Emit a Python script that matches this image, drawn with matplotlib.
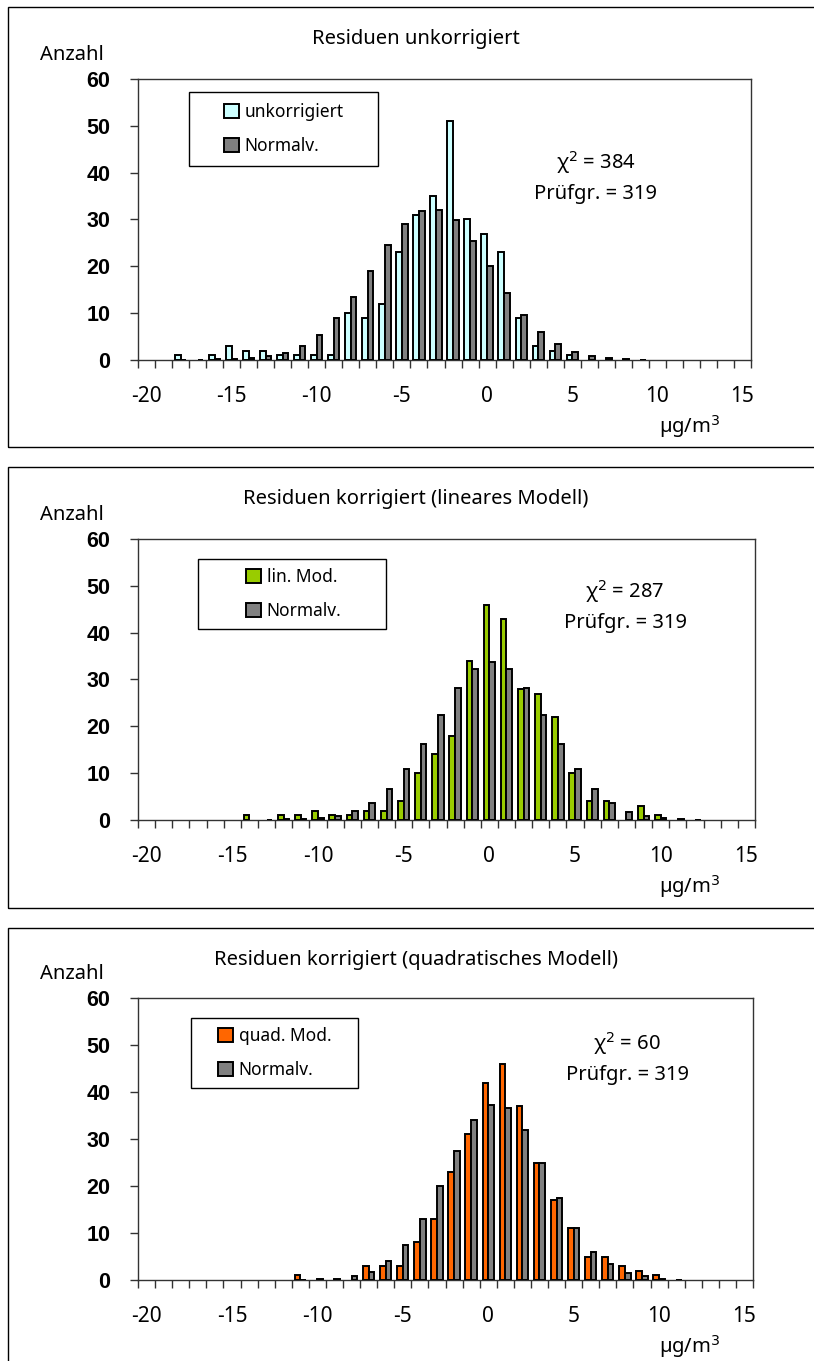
import numpy as np
import matplotlib.pyplot as plt
from matplotlib.patches import Rectangle

# categories: residual classes in ug/m3
categories = list(range(-20, 16))

# observed counts per class (index 0 -> -20, index 35 -> 15)
unkorrigiert = [0, 0, 1, 0, 1, 3, 2, 2, 1, 1, 1, 1, 10, 9, 12, 23, 31, 35, 51, 30,
                27, 23, 9, 3, 2, 1, 0, 0, 0, 0, 0, 0, 0, 0, 0, 0]
normal_unk = [0, 0, 0.05, 0.1, 0.2, 0.3, 0.5, 0.8, 1.5, 3, 5.3, 8.9, 13.5, 18.9, 24.5, 29.1,
              31.9, 32.1, 29.8, 25.4, 20, 14.4, 9.6, 5.9, 3.4, 1.8, 0.9, 0.5, 0.25, 0.1,
              0, 0, 0, 0, 0, 0]

lin_mod = [0, 0, 0, 0, 0, 0, 1, 0, 1, 1, 2, 1, 1, 2, 2, 4, 10, 14, 18, 34,
           46, 43, 28, 27, 22, 10, 4, 4, 0, 3, 1, 0, 0, 0, 0, 0]
normal_lin = [0, 0, 0, 0, 0, 0, 0, 0.05, 0.2, 0.3, 0.5, 0.8, 1.9, 3.6, 6.6, 10.9,
              16.2, 22.4, 28.1, 32.2, 33.7, 32.2, 28.1, 22.4, 16.2, 10.8, 6.6, 3.6, 1.8,
              0.9, 0.4, 0.2, 0.1, 0, 0, 0]

quad_mod = [0, 0, 0, 0, 0, 0, 0, 0, 0, 1, 0, 0, 0, 3, 3, 3, 8, 13, 23, 31,
            42, 46, 37, 25, 17, 11, 5, 5, 3, 2, 1, 0, 0, 0, 0, 0]
normal_quad = [0, 0, 0, 0, 0, 0, 0, 0, 0, 0.05, 0.15, 0.3, 0.8, 1.8, 4, 7.5,
               13, 20, 27.5, 34, 37.3, 36.5, 32, 25, 17.5, 11, 6, 3.5, 1.5, 0.8, 0.3,
               0.1, 0, 0, 0, 0]

titles = ["Residuen unkorrigiert",
          "Residuen korrigiert (lineares Modell)",
          "Residuen korrigiert (quadratisches Modell)"]
labels = ["unkorrigiert", "lin. Mod.", "quad. Mod."]
chi2 = [384, 287, 60]
pruefgr = [319, 319, 319]
colors = ["#CCFFFF", "#99CC00", "#FF6600"]
series = [unkorrigiert, lin_mod, quad_mod]
normals = [normal_unk, normal_lin, normal_quad]

W, H = 814, 1361
fig = plt.figure(figsize=(W / 100, H / 100), dpi=100)
plt.rcParams['font.family'] = ['Noto Sans', 'DejaVu Sans']


def fx(px):
    return px / W


def fy(py):
    return 1 - py / H


# layout in pixels for the three panels
box_top = [7, 467, 928]
box_bot = [447, 908, 1400]
ax_top = [79, 539, 998]
ax_bot = [360, 820, 1280]
ax_right = [751, 755, 753]
leg_box = [(189, 92, 378, 166), (198, 559, 386, 629), (191, 1018, 358, 1088)]
leg_hx = [224, 246, 218]
chi_x = [596, 625, 627]
chi_y = [163, 592, 1044]

x = np.array(categories)
w = 0.33
fs = 14.5

for k in range(3):
    # outer frame of the panel (right side is off the picture)
    fig.patches.append(Rectangle((fx(8), fy(box_bot[k])), fx(900) - fx(8),
                                 (box_bot[k] - box_top[k]) / H, transform=fig.transFigure,
                                 fill=False, ec='black', lw=1.0))

    ax = fig.add_axes([fx(138), fy(ax_bot[k]), fx(ax_right[k]) - fx(138),
                       (ax_bot[k] - ax_top[k]) / H])
    obs = np.array(series[k], dtype=float)
    nrm = np.array(normals[k], dtype=float)
    m1 = obs > 0
    m2 = nrm > 0
    b1 = ax.bar(x[m1] - w / 2, obs[m1], width=w, color=colors[k], edgecolor='black',
                linewidth=1.4, zorder=3)
    b2 = ax.bar(x[m2] + w / 2, nrm[m2], width=w, color='#808080', edgecolor='black',
                linewidth=1.4, zorder=3)

    ax.set_xlim(-20.5, 15.5)
    ax.set_ylim(0, 60)
    ax.set_yticks(range(0, 61, 10))
    ax.set_yticklabels([str(v) for v in range(0, 61, 10)], fontweight='bold',
                       family='Liberation Sans', fontsize=15.5)
    ax.set_xticks(range(-20, 16, 5))
    ax.set_xticklabels([str(v) for v in range(-20, 16, 5)], fontsize=15)
    ax.set_xticks(np.arange(-20.5, 15.6, 1), minor=True)
    ax.tick_params(axis='x', which='major', length=0, pad=19)
    ax.tick_params(axis='x', which='minor', length=6, width=1, color='#333333')
    ax.tick_params(axis='y', length=6, width=1, color='#333333', pad=14)
    for s in ax.spines.values():
        s.set_color('#333333')
        s.set_linewidth(1.0)

    # legend: box drawn separately, entries on top of it
    x0, y0, x1, y1 = leg_box[k]
    fig.patches.append(Rectangle((fx(x0), fy(y1)), fx(x1) - fx(x0), (y1 - y0) / H,
                                 transform=fig.transFigure, fill=True, fc='white',
                                 ec='black', lw=1.0, zorder=5))
    leg = fig.legend([b1, b2], [labels[k], "Normalv."], loc='center left',
                     bbox_to_anchor=(fx(leg_hx[k]), fy((y0 + y1) / 2)),
                     bbox_transform=fig.transFigure, frameon=False, borderpad=0,
                     borderaxespad=0, handlelength=0.85, handleheight=0.85,
                     handletextpad=0.35, labelspacing=0.95, fontsize=12.5)
    leg.set_zorder(6)

    fig.text(fx(416), fy(box_top[k] + 32), titles[k], ha='center', va='center', fontsize=fs)
    fig.text(fx(72), fy(ax_top[k] - 24), "Anzahl", ha='center', va='center', fontsize=fs)
    fig.text(fx(690), fy(ax_bot[k] + 67), r"µg/m$^3$", ha='center', va='center', fontsize=fs)
    fig.text(fx(chi_x[k]), fy(chi_y[k]), "χ$^{2}$ = %d" % chi2[k], ha='center', va='center',
             fontsize=fs)
    fig.text(fx(chi_x[k]), fy(chi_y[k] + 31), "Prüfgr. = %d" % pruefgr[k], ha='center',
             va='center', fontsize=fs)

fig.savefig("out.png", dpi=100, facecolor='white')
